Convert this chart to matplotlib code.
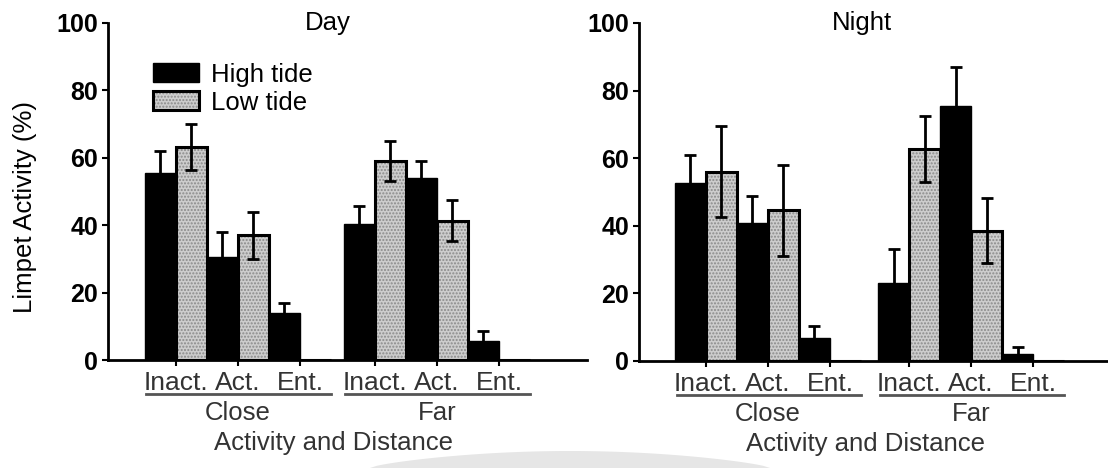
import matplotlib
matplotlib.use('Agg')
import numpy as np
import matplotlib.pyplot as plt
import matplotlib.transforms as mtransforms
from matplotlib.patches import Patch, Polygon

plt.rcParams['font.family'] = ['Liberation Sans', 'DejaVu Sans']

# ---------------------------------------------------------------
# Limpet activity (%), mean and SE; order: Close (Inact, Act, Ent), Far (Inact, Act, Ent)
# ---------------------------------------------------------------
ACTIVITIES = ['Inact.', 'Act.', 'Ent.']
DISTANCES = ['Close', 'Far']
SERIES = ['High tide', 'Low tide']

day_high = [55.5, 30.5, 14.0, 40.5, 54.0, 5.7]
day_high_err = [6.5, 7.5, 3.0, 5.3, 5.0, 3.0]
day_low = [63.3, 37.0, 0.0, 59.0, 41.3, 0.0]
day_low_err = [6.8, 7.0, 0.0, 6.0, 6.1, 0.0]

night_high = [52.7, 40.8, 6.6, 22.9, 75.5, 2.0]
night_high_err = [8.1, 8.1, 3.7, 10.3, 11.4, 2.0]
night_low = [56.0, 44.5, 0.0, 62.7, 38.5, 0.0]
night_low_err = [13.4, 13.5, 0.0, 9.7, 9.6, 0.0]

W, H = 1108, 468
FS = 18.5
LOW_FACE = '#cdcdcd'
LOW_DOTS = '#8a8a8a'
SUB_GREY = '#333333'

fig = plt.figure(figsize=(W / 100, H / 100), dpi=100)


def panel(rect, title, title_x, xmax, starts, high, high_err, low, low_err,
          xlabel_x, legend=False):
    ax = fig.add_axes(rect)
    xs_high, xs_low, ticks = [], [], []
    for s in starts:
        for j in range(len(ACTIVITIES)):
            xs_high.append(s + 2 * j + 0.5)
            xs_low.append(s + 2 * j + 1.5)
            ticks.append(s + 2 * j + 1)

    ax.bar(xs_high, high, width=1.0, color='black', edgecolor='black',
           linewidth=1, zorder=2)
    ax.bar(xs_low, low, width=1.0, color=LOW_FACE, edgecolor=LOW_DOTS,
           hatch='.....', linewidth=0, zorder=2)
    ax.bar(xs_low, low, width=1.0, fill=False, edgecolor='black',
           linewidth=2.2, zorder=3)

    for xs, vals, errs in ((xs_high, high, high_err), (xs_low, low, low_err)):
        keep = [i for i, e in enumerate(errs) if e > 0]
        ax.errorbar([xs[i] for i in keep], [vals[i] for i in keep],
                    yerr=[errs[i] for i in keep], fmt='none', ecolor='black',
                    elinewidth=2, capsize=4, capthick=2, zorder=4)

    ax.set_xlim(0, xmax)
    ax.set_ylim(0, 100)
    for sp in ('top', 'right'):
        ax.spines[sp].set_visible(False)
    ax.spines['left'].set_linewidth(2)
    ax.spines['bottom'].set_linewidth(2)
    ax.spines['left'].set_bounds(0, 100)

    ax.set_yticks([0, 20, 40, 60, 80, 100])
    ax.tick_params(axis='y', length=4, width=1.5, labelsize=18, pad=3)
    for lbl in ax.get_yticklabels():
        lbl.set_fontweight('bold')
    ax.set_xticks(ticks, labels=ACTIVITIES * len(starts))
    ax.tick_params(axis='x', length=4, width=1.5, labelsize=19, pad=4,
                   labelcolor=SUB_GREY)

    trans = mtransforms.blended_transform_factory(ax.transData, ax.transAxes)
    for s, name in zip(starts, DISTANCES):
        ax.plot([s + 0.05, s + 6.0], [-0.101, -0.101], color='#555555',
                lw=2, transform=trans, clip_on=False)
        ax.text(s + 3, -0.157, name, transform=trans, ha='center', va='center',
                fontsize=FS, color=SUB_GREY)
    ax.text(xlabel_x, -0.246, 'Activity and Distance', transform=ax.transAxes,
            ha='center', va='center', fontsize=FS, color=SUB_GREY)
    ax.text(title_x, 1.0, title, transform=ax.transAxes, ha='center',
            va='center', fontsize=FS)

    if legend:
        h_high = Patch(facecolor='black', edgecolor='black')
        h_low = (Patch(facecolor=LOW_FACE, edgecolor=LOW_DOTS, hatch='.....', lw=0),
                 Patch(fill=False, edgecolor='black', lw=2.2))
        ax.legend([h_high, h_low], SERIES, loc='upper left',
                  bbox_to_anchor=(0.094, 0.882), frameon=False, fontsize=FS,
                  handlelength=1.8, handleheight=0.75, handletextpad=0.45,
                  labelspacing=0.15, borderpad=0, borderaxespad=0)
    return ax


panel([108 / W, 108 / H, 479 / W, 337 / H], 'Day', 0.459, 479 / 31,
      [1.19, 7.61], day_high, day_high_err, day_low, day_low_err, 0.47,
      legend=True)
panel([639 / W, 107.3 / H, 469 / W, 337.7 / H], 'Night', 0.475, 469 / 31,
      [1.16, 7.71], night_high, night_high_err, night_low, night_low_err, 0.482)

fig.text(25 / W, 1 - 207 / H, 'Limpet Activity (%)', rotation=90,
         ha='center', va='center', fontsize=FS)

# faint grey swoosh along the lower edge
sx = np.linspace(370, 770, 60)
sy = 468 - 17 * np.sin(np.pi * (sx - 370) / 400) ** 0.7
outline = list(zip(sx, sy)) + [(770, 468), (370, 468)]
fig.patches.append(Polygon([(x / W, 1 - y / H) for x, y in outline], closed=True,
                           transform=fig.transFigure, facecolor='#e6e6e6',
                           edgecolor='none', zorder=0))

fig.savefig('out.png', dpi=100)
